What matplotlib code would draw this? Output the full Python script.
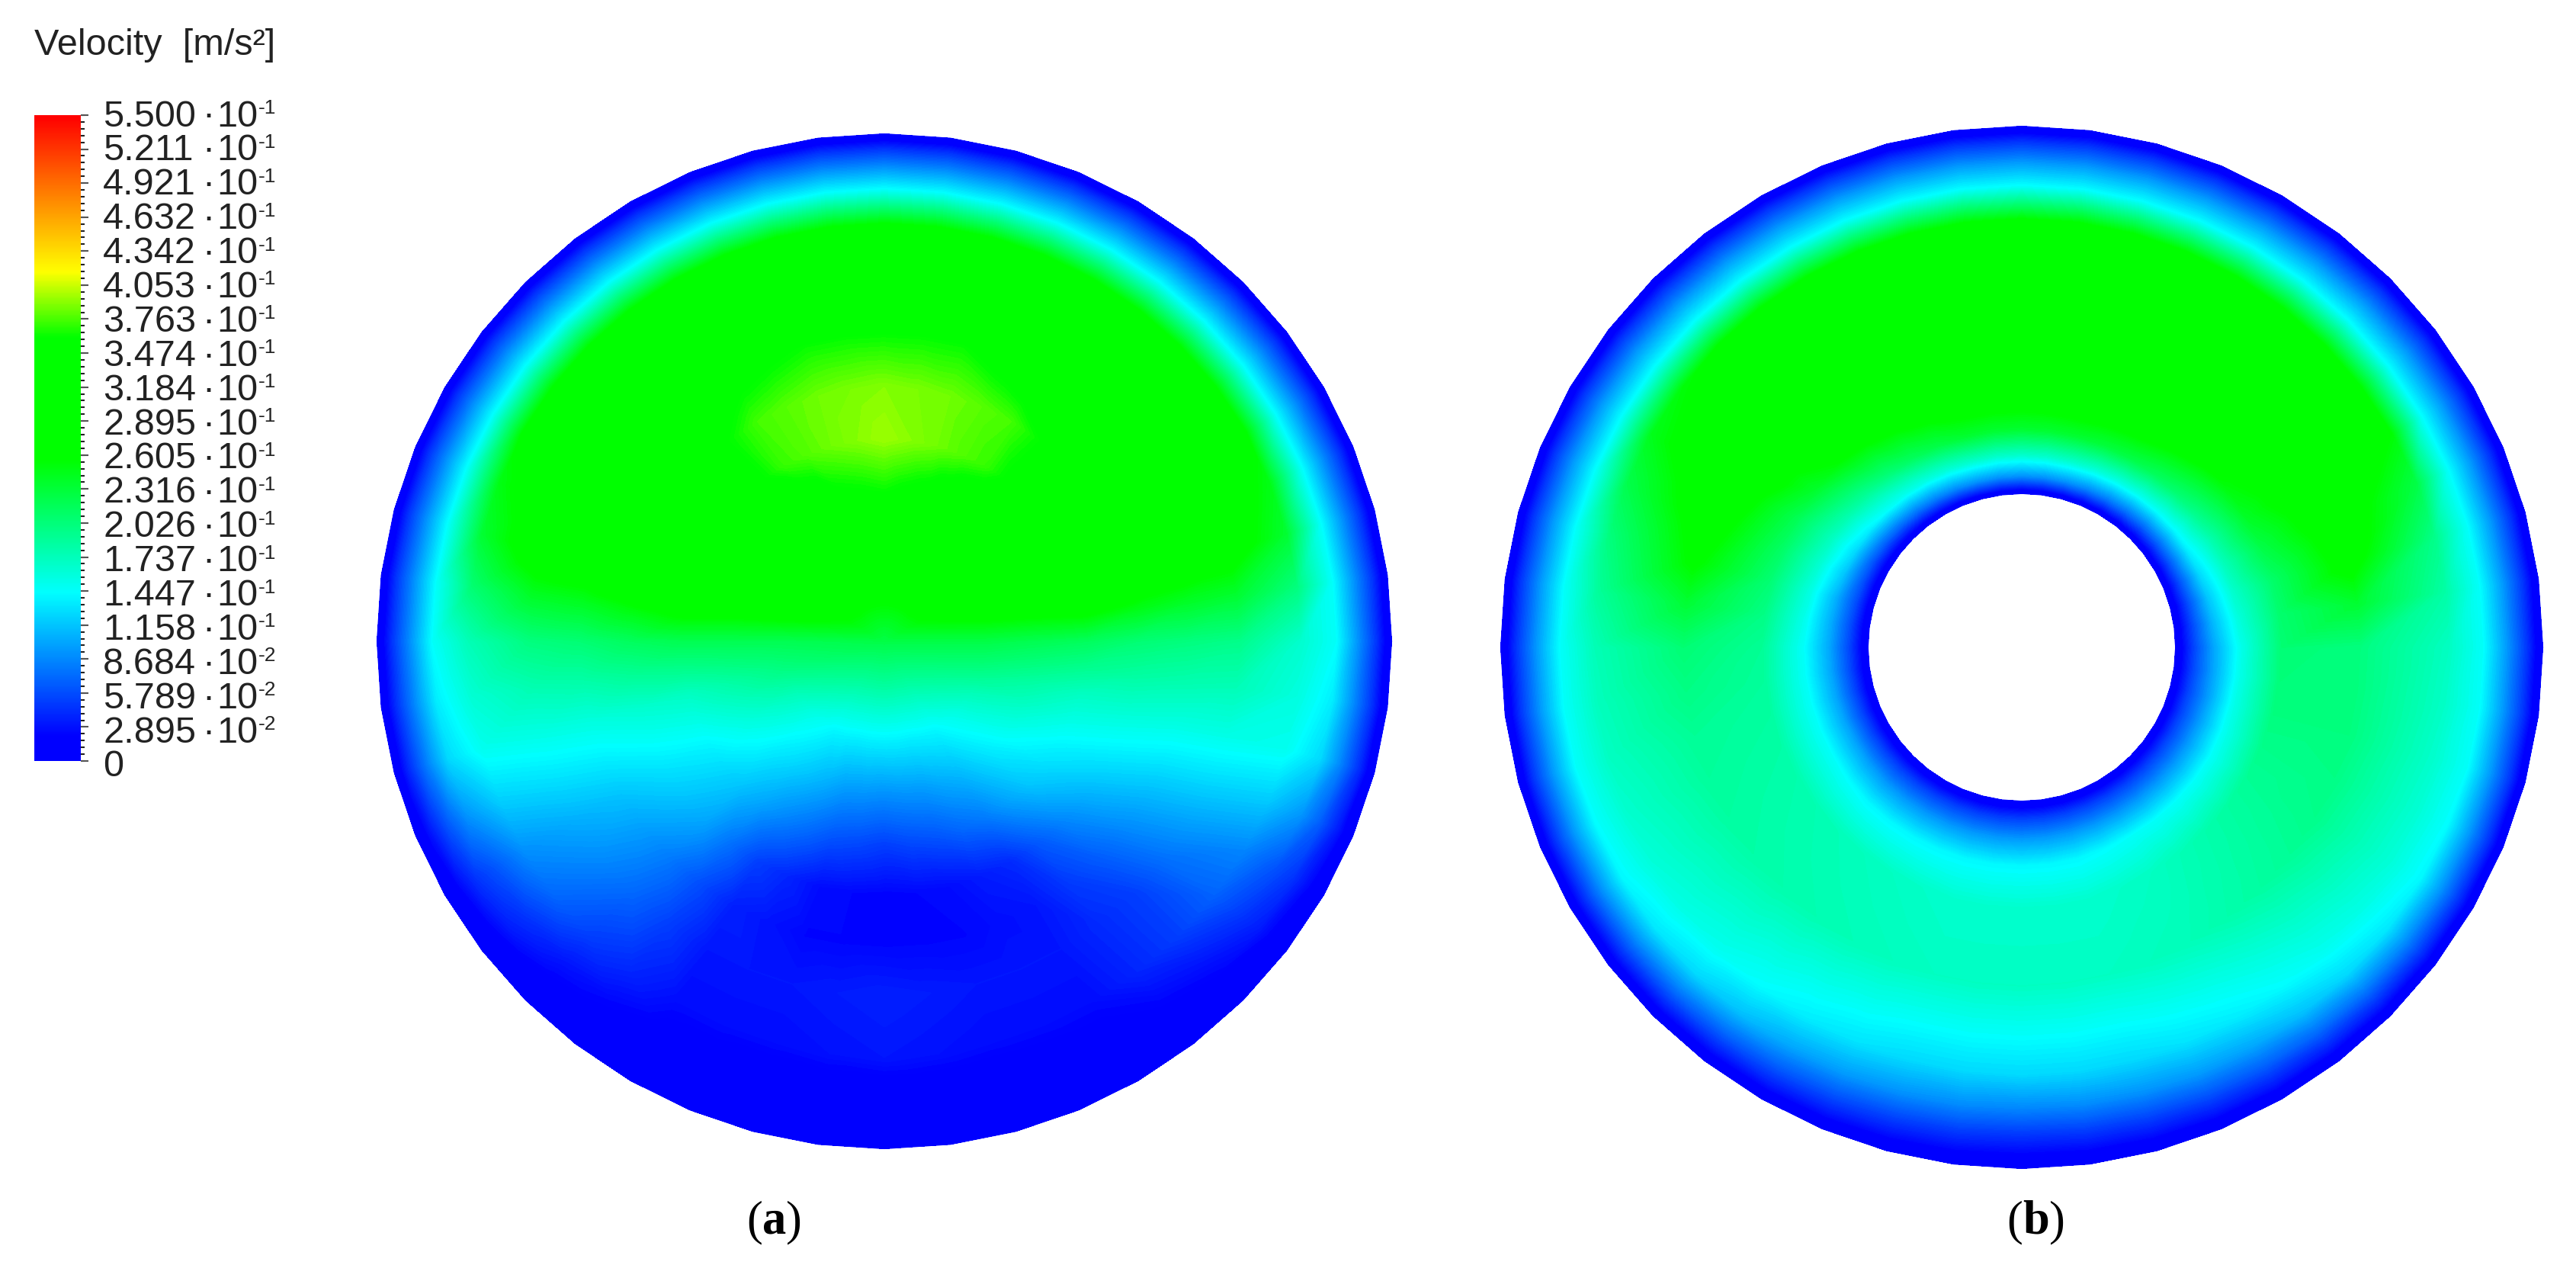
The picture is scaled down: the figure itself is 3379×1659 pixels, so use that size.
import numpy as np
import matplotlib
matplotlib.use('Agg')
import matplotlib.pyplot as plt
import matplotlib.tri as mtri
from matplotlib.colors import LinearSegmentedColormap

# velocity values, one list per ring,
# 24 angles each: 0 deg = east, going anticlockwise in 15 deg steps
angles = list(range(0, 360, 15))

# disc (a)
a_radii = [1.0, 0.97, 0.93, 0.89, 0.82, 0.7, 0.6, 0.5, 0.4, 0.3, 0.2]
a_100 = [0] * 24
a_97 = [.045, .045, .045, .045, .045, .045, .045, .045, .045, .045, .045, .045, .045, .04, .02, .005, .005, .005, .005, .005, .005, .005, .02, .04]
a_93 = [.095, .095, .095, .095, .095, .095, .095, .095, .095, .095, .095, .095, .095, .085, .045, .02, .01, .01, .01, .01, .01, .02, .045, .085]
a_89 = [.145, .145, .145, .145, .145, .145, .145, .145, .145, .145, .145, .145, .145, .125, .06, .03, .015, .01, .01, .01, .015, .03, .06, .125]
a_82 = [.165, .235, .262, .262, .262, .262, .262, .262, .262, .262, .262, .235, .175, .15, .09, .05, .025, .025, .03, .025, .025, .05, .085, .15]
a_70 = [.195, .275, .29, .30, .30, .30, .31, .30, .30, .30, .29, .28, .2, .155, .105, .07, .03, .03, .035, .03, .03, .05, .1, .155]
a_60 = [.2, .28, .30, .32, .34, .362, .362, .362, .35, .32, .30, .28, .205, .158, .115, .08, .035, .022, .022, .022, .03, .065, .11, .158]
a_50 = [.205, .29, .31, .345, .375, .385, .39, .385, .375, .345, .31, .29, .215, .165, .13, .1, .05, .025, .02, .025, .04, .085, .125, .165]
a_40 = [.215, .30, .32, .34, .372, .385, .395, .385, .372, .34, .32, .30, .22, .17, .14, .115, .085, .06, .05, .06, .08, .115, .14, .17]
a_30 = [.22, .28, .31, .32, .33, .35, .362, .355, .33, .32, .31, .28, .22, .185, .16, .135, .115, .095, .09, .095, .11, .135, .16, .185]
a_20 = [.225, .265, .30, .31, .31, .31, .31, .31, .31, .31, .30, .265, .22, .2, .175, .155, .14, .135, .135, .135, .14, .155, .175, .2]
a_center = .225

# disc (b), with the hole in the middle
b_radii = [1.0, 0.97, 0.93, 0.885, 0.82, 0.65, 0.5, 0.42, 0.37, 0.33, 0.296]
b_100 = [0] * 24
b_97 = [.045, .045, .045, .045, .045, .045, .045, .045, .045, .045, .045, .045, .045, .045, .04, .035, .03, .025, .022, .025, .03, .035, .04, .045]
b_93 = [.095, .095, .095, .095, .095, .095, .095, .095, .095, .095, .095, .095, .095, .095, .09, .08, .065, .055, .05, .055, .065, .08, .09, .095]
b_885 = [.145, .145, .145, .145, .145, .145, .145, .145, .145, .145, .145, .145, .145, .145, .14, .125, .1, .09, .085, .09, .1, .125, .14, .145]
b_82 = [.17, .195, .255, .258, .26, .26, .26, .26, .26, .26, .245, .2, .175, .17, .16, .15, .135, .125, .125, .125, .135, .15, .16, .165]
b_65 = [.2, .27, .29, .30, .30, .30, .30, .30, .30, .30, .29, .262, .205, .19, .185, .18, .175, .17, .17, .17, .175, .185, .195, .2]
b_50 = [.205, .21, .24, .262, .285, .29, .285, .285, .27, .255, .22, .205, .19, .185, .18, .175, .17, .165, .165, .165, .17, .18, .19, .2]
b_42 = [.15, .165, .18, .205, .225, .235, .235, .235, .215, .19, .17, .155, .145, .145, .145, .14, .14, .14, .14, .14, .145, .145, .145, .15]
b_37 = [.1, .115, .135, .145, .155, .165, .165, .165, .155, .145, .125, .105, .1, .1, .1, .095, .095, .095, .095, .095, .095, .095, .095, .095]
b_33 = [.05, .055, .065, .07, .08, .09, .09, .09, .08, .07, .06, .055, .05, .05, .05, .05, .05, .05, .05, .05, .05, .05, .05, .05]
b_296 = [0] * 24

# legend
legend_mant = ['5.500', '5.211', '4.921', '4.632', '4.342', '4.053', '3.763', '3.474', '3.184', '2.895',
               '2.605', '2.316', '2.026', '1.737', '1.447', '1.158', '8.684', '5.789', '2.895', '0']
legend_exp = ['-1'] * 16 + ['-2'] * 3 + ['']

vmax = 0.55
cmap = LinearSegmentedColormap.from_list('fluent', [
    (0, (0, 0, 1)), (.02 / vmax, (0, 0, 1)), (.143 / vmax, (0, 1, 1)), (.2565 / vmax, (0, 1, 0)),
    (.361 / vmax, (0, 1, 0)), (.417 / vmax, (1, 1, 0)), (1, (1, 0, 0))], N=512)
levels = np.linspace(0, vmax, 221)
subdiv = 2  # mesh vertices per 15 deg step, keeps the wall from looking too angular


def draw_disc(ax, cx, cy, R, radii, rings, center=None):
    th_deg = np.arange(0, 360, 15 / subdiv)
    th = np.radians(th_deg)
    n = len(th)
    xs, ys, zs, tris = [], [], [], []
    for r, vals in zip(radii, rings):
        xs += list(cx + R * r * np.cos(th))
        ys += list(cy - R * r * np.sin(th))
        zs += list(np.interp(th_deg, angles + [360], list(vals) + [vals[0]]))
    for i in range(len(radii) - 1):
        for j in range(n):
            p = i * n + j
            q = i * n + (j + 1) % n
            tris.append([p, q, p + n])
            tris.append([q, q + n, p + n])
    if center is not None:
        xs.append(cx)
        ys.append(cy)
        zs.append(center)
        last = (len(radii) - 1) * n
        for j in range(n):
            tris.append([last + j, last + (j + 1) % n, len(xs) - 1])
    tr = mtri.Triangulation(xs, ys, tris)
    cs = ax.tricontourf(tr, zs, levels=levels, cmap=cmap, vmin=0, vmax=vmax)
    cs.set_edgecolor('face')
    cs.set_linewidth(0.6)
    # the wall is blue all the way round
    ax.plot(xs[:n] + xs[:1], ys[:n] + ys[:1], color='#0000ff', lw=1.5)
    if center is None:
        start = (len(radii) - 1) * n
        ax.plot(xs[start:start + n] + xs[start:start + 1], ys[start:start + n] + ys[start:start + 1], color='#0000ff', lw=1.5)


fig = plt.figure(figsize=(33.79, 16.59), dpi=100)
ax = fig.add_axes([0, 0, 1, 1])
ax.set_xlim(0, 3379)
ax.set_ylim(1659, 0)
ax.axis('off')

draw_disc(ax, 1160, 841, 665, a_radii, [a_100, a_97, a_93, a_89, a_82, a_70, a_60, a_50, a_40, a_30, a_20], center=a_center)
draw_disc(ax, 2652, 849, 683, b_radii, [b_100, b_97, b_93, b_885, b_82, b_65, b_50, b_42, b_37, b_33, b_296])

# colour bar
bar_top, bar_bot = 151, 998
grad = np.linspace(vmax, 0, 400).reshape(-1, 1)
ax.imshow(grad, cmap=cmap, vmin=0, vmax=vmax, extent=[45, 106, bar_bot, bar_top], aspect='auto', zorder=2)
ax.set_xlim(0, 3379)
ax.set_ylim(1659, 0)

n_lab = len(legend_mant)
major_y = np.linspace(bar_top, bar_bot, n_lab)
minor_y = np.linspace(bar_top, bar_bot, (n_lab - 1) * 5 + 1)
ax.hlines(minor_y, 106, 111, color='#222222', lw=1.5, zorder=3)
ax.hlines(major_y, 106, 116, color='#555555', lw=1.5, zorder=3)

fs = 35
sans = 'Liberation Sans'
label_y = np.linspace(153, 1006, n_lab)
for y, m, e in zip(label_y, legend_mant, legend_exp):
    ax.text(135, y, m, family=sans, fontsize=fs, color='#222222', va='center', ha='left')
    if e:
        ax.text(265, y, '\u00b7', family=sans, fontsize=fs, color='#222222', va='center', ha='left')
        ax.text(284, y, '10', family=sans, fontsize=fs, color='#222222', va='center', ha='left')
        ax.text(339, y - 11, e, family=sans, fontsize=19, color='#222222', va='center', ha='left')

ax.text(45, 60, 'Velocity  [m/s\u00b2]', family=sans, fontsize=35, color='#222222', va='center', ha='left')

serif = 'Liberation Serif'
ax.text(1000, 1603, '(', family=serif, fontsize=45, va='center', ha='right')
ax.text(1000, 1603, 'a', family=serif, fontsize=45, fontweight='bold', va='center', ha='left')
ax.text(1031, 1603, ')', family=serif, fontsize=45, va='center', ha='left')
ax.text(2653, 1603, '(', family=serif, fontsize=45, va='center', ha='right')
ax.text(2653, 1603, 'b', family=serif, fontsize=45, fontweight='bold', va='center', ha='left')
ax.text(2688, 1603, ')', family=serif, fontsize=45, va='center', ha='left')

fig.savefig('out.png', dpi=100, facecolor='white')
